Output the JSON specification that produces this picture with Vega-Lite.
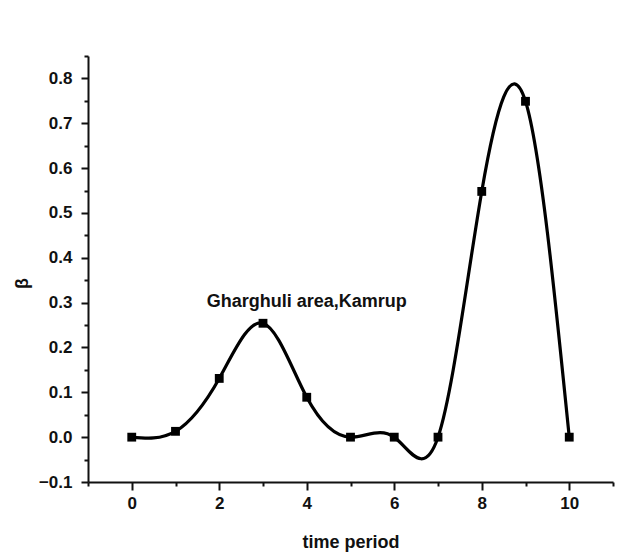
{
  "$schema": "https://vega.github.io/schema/vega-lite/v6.json",
  "width": 525,
  "height": 426,
  "autosize": {"type": "none"},
  "padding": {"left": 88, "top": 56, "right": 4, "bottom": 78},
  "background": "white",
  "config": {
    "view": {"stroke": null},
    "font": "Liberation Sans",
    "axis": {
      "grid": false,
      "domainColor": "#111",
      "domainWidth": 2,
      "tickColor": "#111",
      "tickWidth": 2,
      "labelFont": "Liberation Sans",
      "labelFontWeight": "bold",
      "labelFontSize": 17,
      "labelColor": "#111",
      "titleFont": "Liberation Sans",
      "titleFontWeight": "bold",
      "titleFontSize": 18,
      "titleColor": "#111"
    }
  },
  "datasets": {
    "pts": [
      {"t": 0, "beta": 0.0},
      {"t": 1, "beta": 0.013},
      {"t": 2, "beta": 0.131},
      {"t": 3, "beta": 0.254},
      {"t": 4, "beta": 0.089},
      {"t": 5, "beta": 0.0},
      {"t": 6, "beta": 0.0},
      {"t": 7, "beta": 0.0},
      {"t": 8, "beta": 0.548},
      {"t": 9, "beta": 0.749},
      {"t": 10, "beta": 0.0}
    ],
    "note": [
      {"t": 4.0, "beta": 0.29, "label": "Gharghuli area,Kamrup"}
    ]
  },
  "resolve": {"axis": {"x": "independent", "y": "independent"}},
  "layer": [
    {
      "data": {"name": "pts"},
      "mark": {"type": "line", "interpolate": "natural", "color": "#000", "strokeWidth": 3.2},
      "encoding": {
        "x": {
          "field": "t", "type": "quantitative",
          "scale": {"domain": [-1, 11], "nice": false, "zero": false},
          "axis": {
            "orient": "bottom",
            "title": "time period",
            "values": [0, 2, 4, 6, 8, 10],
            "tickSize": 8,
            "labelPadding": 5,
            "titlePadding": 22
          }
        },
        "y": {
          "field": "beta", "type": "quantitative",
          "scale": {"domain": [-0.1, 0.85], "nice": false, "zero": false},
          "axis": {
            "orient": "left",
            "title": "β",
            "values": [-0.1, 0, 0.1, 0.2, 0.3, 0.4, 0.5, 0.6, 0.7, 0.8],
            "format": ".1f",
            "tickSize": 7,
            "labelPadding": 9,
            "titlePadding": 7,
            "titleY": 227
          }
        }
      }
    },
    {
      "data": {"name": "pts"},
      "mark": {"type": "square", "filled": true, "color": "#000", "size": 78, "opacity": 1},
      "encoding": {
        "x": {
          "field": "t", "type": "quantitative",
          "axis": {
            "orient": "bottom",
            "title": null,
            "values": [-1, 1, 3, 5, 7, 9, 11],
            "labels": false,
            "domain": false,
            "tickSize": 4
          }
        },
        "y": {
          "field": "beta", "type": "quantitative",
          "axis": {
            "orient": "left",
            "title": null,
            "values": [-0.05, 0.05, 0.15, 0.25, 0.35, 0.45, 0.55, 0.65, 0.75, 0.85],
            "labels": false,
            "domain": false,
            "tickSize": 4
          }
        }
      }
    },
    {
      "data": {"name": "note"},
      "mark": {"type": "text", "font": "Liberation Sans", "fontWeight": "bold", "fontSize": 18, "color": "#111", "align": "center", "baseline": "alphabetic"},
      "encoding": {
        "x": {"field": "t", "type": "quantitative", "axis": null},
        "y": {"field": "beta", "type": "quantitative", "axis": null},
        "text": {"field": "label"}
      }
    }
  ]
}
